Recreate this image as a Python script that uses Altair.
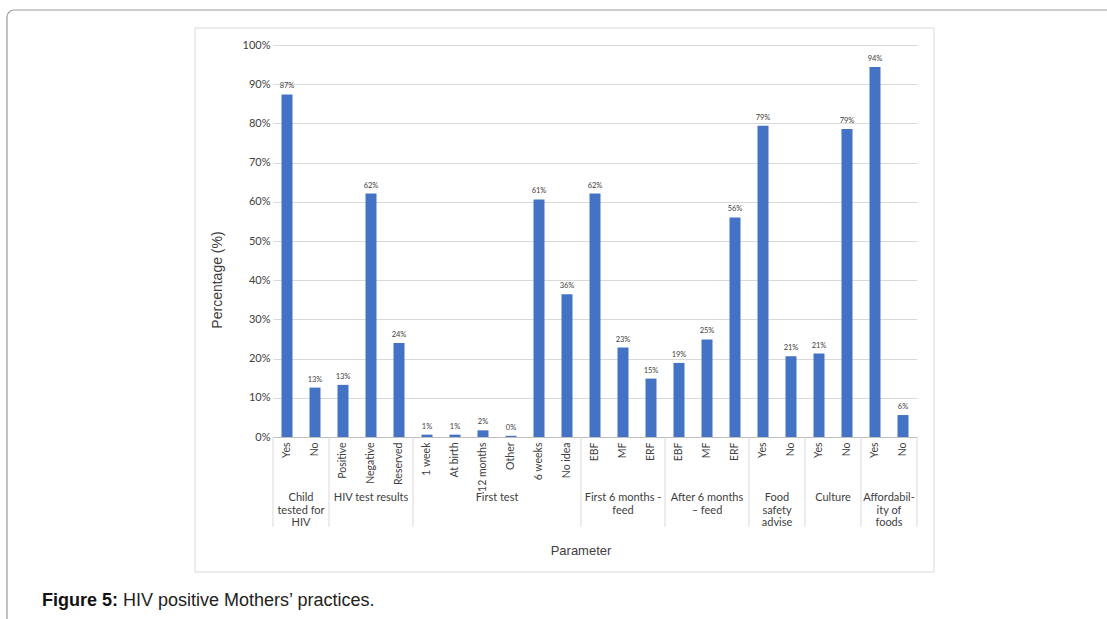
import altair as alt
import pandas as pd

# ---- data ----
group_names = ["Child\ntested for\nHIV", "HIV test results", "First test",
               "First 6 months -\nfeed", "After 6 months\n\u2013 feed",
               "Food\nsafety\nadvise", "Culture", "Affordabil-\nity of\nfoods"]
group_items = [["Yes", "No"],
               ["Positive", "Negative", "Reserved"],
               ["1 week", "At birth", "12 months", "Other", "6 weeks", "No idea"],
               ["EBF", "MF", "ERF"],
               ["EBF", "MF", "ERF"],
               ["Yes", "No"],
               ["Yes", "No"],
               ["Yes", "No"]]
values = [87.4, 12.6,
          13.3, 62.1, 24.0,
          0.6, 0.6, 1.7, 0.3, 60.6, 36.4,
          62.1, 22.8, 14.9,
          18.9, 24.9, 56.0,
          79.4, 20.6,
          21.3, 78.6,
          94.4, 5.6]
y_ticks = list(range(0, 101, 10))

# ---- tables ----
keys, items = [], []
for gi, its in enumerate(group_items):
    for it in its:
        keys.append(f"{gi}|{it}")
        items.append(it)
bars = pd.DataFrame({"key": keys, "item": items, "value": values})

bounds = [0]
for its in group_items:
    bounds.append(bounds[-1] + len(its))
n = bounds[-1]
seps = pd.DataFrame({"b": bounds})
glab = pd.DataFrame({"c": [(bounds[i] + bounds[i + 1]) / 2 for i in range(len(group_names))],
                     "name": group_names})
one = pd.DataFrame({"a": [0]})

# ---- layout (pixels) ----
LEFT, TOP = 273, 45
W, H = 28 * n, 392
TOTAL_W, TOTAL_H = 1107, 619
LBL = "Lato"
GRAY = "#d9d9d9"
TXT = "#404040"

band = alt.Scale(paddingInner=0, paddingOuter=0)
xs = alt.X("key:N", sort=keys, scale=band,
           axis=alt.Axis(labelAngle=-90, labelAlign="right", labelBaseline="middle",
                         labelPadding=5, labelOverlap=False, ticks=False,
                         domainColor="#bfbfbf", labelFont=LBL, labelFontSize=10.5,
                         labelColor=TXT, title=None,
                         labelExpr="split(datum.value, '|')[1]"))
ys = alt.Y("value:Q", scale=alt.Scale(domain=[0, 100]),
           axis=alt.Axis(values=y_ticks, labelExpr="datum.value + '%'", grid=True,
                         gridColor=GRAY, domain=False, ticks=False, labelFont=LBL,
                         labelOverlap=False,
                         labelFontSize=11, labelColor=TXT, labelPadding=3, title=None))

outer = alt.Chart(one).mark_rect(filled=False, stroke="#999999", strokeWidth=1.2,
                                 cornerRadius=7).encode(
    x=alt.value(7 - LEFT), x2=alt.value(1200 - LEFT),
    y=alt.value(10 - TOP), y2=alt.value(700 - TOP))

inner = alt.Chart(one).mark_rect(filled=False, stroke=GRAY, strokeWidth=1).encode(
    x=alt.value(195 - LEFT), x2=alt.value(934 - LEFT),
    y=alt.value(28 - TOP), y2=alt.value(572 - TOP))

bar = alt.Chart(bars).mark_bar(size=11, color="#4472C4").encode(x=xs, y=ys)

lab = alt.Chart(bars).transform_calculate(
    lbl="format(datum.value, '.0f') + '%'"
).mark_text(dy=-4, baseline="bottom", font=LBL, fontSize=7.5, color=TXT).encode(
    x=alt.X("key:N", sort=keys, scale=band, axis=None),
    y=ys, text="lbl:N")

qx = alt.Scale(domain=[0, n], nice=False, zero=False)
sep = alt.Chart(seps).mark_rule(color=GRAY, strokeWidth=1).encode(
    x=alt.X("b:Q", scale=qx, axis=None),
    y=alt.value(H), y2=alt.value(482))

grp = alt.Chart(glab).mark_text(baseline="top", align="center", font=LBL, fontSize=11,
                                lineHeight=12.5, lineBreak="\n", color=TXT).encode(
    x=alt.X("c:Q", scale=qx, axis=None), y=alt.value(447), text="name:N")

xtitle = alt.Chart(one).mark_text(font="Liberation Sans", fontSize=13, color=TXT,
                                  baseline="alphabetic").encode(
    x=alt.value(581 - LEFT), y=alt.value(555 - TOP), text=alt.value("Parameter"))

ytitle = alt.Chart(one).mark_text(font="Liberation Sans", fontSize=14, color=TXT,
                                  angle=270, baseline="middle").encode(
    x=alt.value(218 - LEFT), y=alt.value(280 - TOP), text=alt.value("Percentage (%)"))

cap1 = alt.Chart(one).mark_text(font="Liberation Sans", fontSize=18, fontWeight="bold",
                                color="#111111", align="left", baseline="alphabetic").encode(
    x=alt.value(42 - LEFT), y=alt.value(606 - TOP), text=alt.value("Figure 5:"))
cap2 = alt.Chart(one).mark_text(font="Liberation Sans", fontSize=18,
                                color="#222222", align="left", baseline="alphabetic").encode(
    x=alt.value(123 - LEFT), y=alt.value(606 - TOP),
    text=alt.value("HIV positive Mothers\u2019 practices."))

chart = alt.layer(outer, inner, bar, lab, sep, grp, xtitle, ytitle, cap1, cap2).resolve_scale(
    x="independent"
).properties(
    width=W, height=H,
    autosize=alt.AutoSizeParams(type="none"),
    padding={"left": LEFT, "top": TOP, "right": TOTAL_W - LEFT - W,
             "bottom": TOTAL_H - TOP - H},
    background="white",
).configure_view(stroke=None)

chart.save("out.html", embed_options={"renderer": "svg", "actions": False})
